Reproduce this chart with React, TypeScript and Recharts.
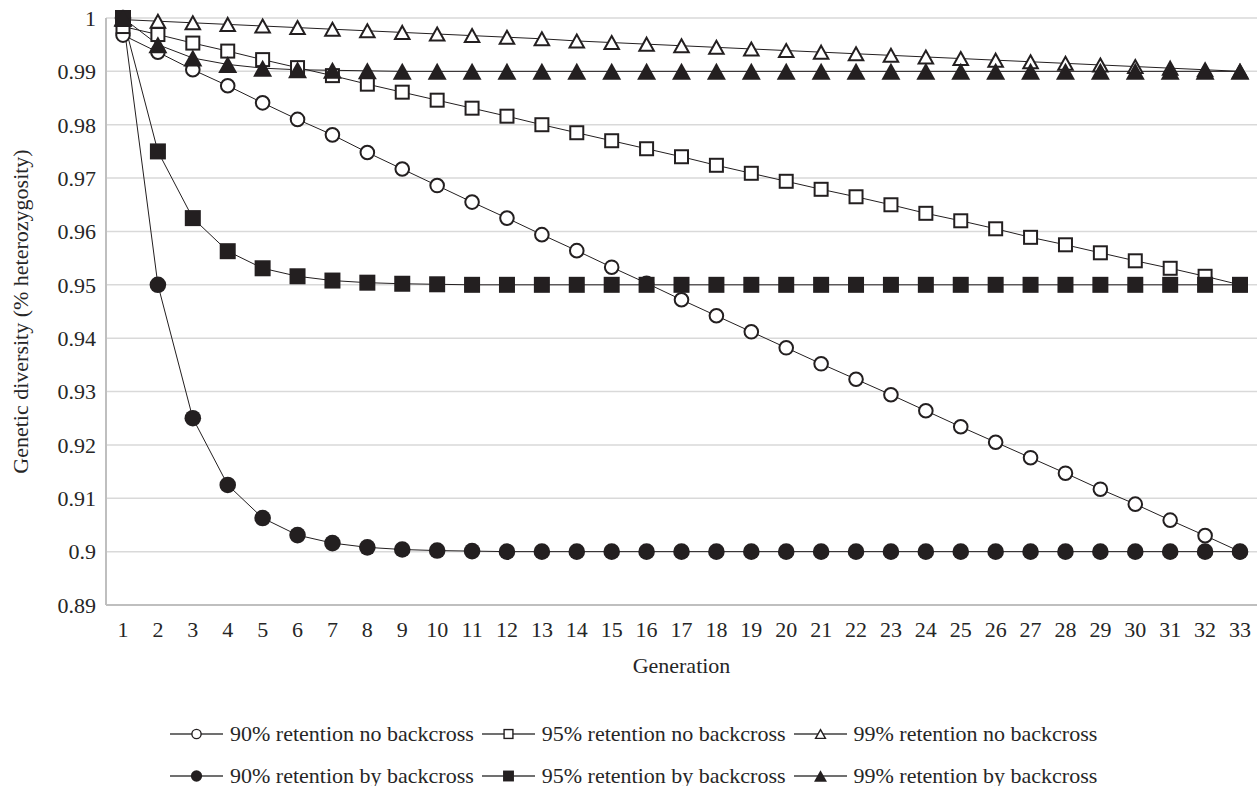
import { LineChart, Line, XAxis, YAxis, CartesianGrid, Legend, Label } from "recharts";

const generations = [
  "1", "2", "3", "4", "5", "6", "7", "8", "9", "10", "11",
  "12", "13", "14", "15", "16", "17", "18", "19", "20", "21", "22",
  "23", "24", "25", "26", "27", "28", "29", "30", "31", "32", "33",
];

const yTicks = [0.89, 0.9, 0.91, 0.92, 0.93, 0.94, 0.95, 0.96, 0.97, 0.98, 0.99, 1];

// one value per generation
const ret90No = [
  0.9968, 0.9936, 0.9903, 0.9873, 0.9841, 0.981, 0.9781, 0.9748, 0.9717, 0.9686, 0.9655,
  0.9625, 0.9594, 0.9564, 0.9533, 0.9503, 0.9472, 0.9442, 0.9412, 0.9382, 0.9352, 0.9323,
  0.9294, 0.9264, 0.9234, 0.9205, 0.9176, 0.9147, 0.9117, 0.9089, 0.9059, 0.903, 0.9,
];
const ret95No = [
  0.9984, 0.9969, 0.9953, 0.9938, 0.9922, 0.9907, 0.9892, 0.9876, 0.9861, 0.9846, 0.9831,
  0.9816, 0.98, 0.9785, 0.977, 0.9755, 0.974, 0.9724, 0.9709, 0.9694, 0.9679, 0.9665,
  0.965, 0.9634, 0.962, 0.9605, 0.9589, 0.9575, 0.956, 0.9545, 0.9531, 0.9516, 0.95,
];
const ret99No = [
  0.9997, 0.9994, 0.9991, 0.9988, 0.9985, 0.9982, 0.9979, 0.9976, 0.9973, 0.997, 0.9967,
  0.9964, 0.9961, 0.9957, 0.9954, 0.9951, 0.9948, 0.9945, 0.9942, 0.9939, 0.9936, 0.9933,
  0.993, 0.9927, 0.9924, 0.9921, 0.9918, 0.9915, 0.9912, 0.9909, 0.9906, 0.9903, 0.99,
];
const ret90By = [
  1, 0.95, 0.925, 0.9125, 0.9063, 0.9031, 0.9016, 0.9008, 0.9004, 0.9002, 0.9001,
  0.9, 0.9, 0.9, 0.9, 0.9, 0.9, 0.9, 0.9, 0.9, 0.9, 0.9,
  0.9, 0.9, 0.9, 0.9, 0.9, 0.9, 0.9, 0.9, 0.9, 0.9, 0.9,
];
const ret95By = [
  1, 0.975, 0.9625, 0.9563, 0.9531, 0.9516, 0.9508, 0.9504, 0.9502, 0.9501, 0.95,
  0.95, 0.95, 0.95, 0.95, 0.95, 0.95, 0.95, 0.95, 0.95, 0.95, 0.95,
  0.95, 0.95, 0.95, 0.95, 0.95, 0.95, 0.95, 0.95, 0.95, 0.95, 0.95,
];
const ret99By = [
  1, 0.995, 0.9925, 0.9913, 0.9906, 0.9903, 0.9902, 0.9901, 0.99, 0.99, 0.99,
  0.99, 0.99, 0.99, 0.99, 0.99, 0.99, 0.99, 0.99, 0.99, 0.99, 0.99,
  0.99, 0.99, 0.99, 0.99, 0.99, 0.99, 0.99, 0.99, 0.99, 0.99, 0.99,
];

type Shape = "circle" | "square" | "triangle";

const series: { key: string; name: string; shape: Shape; filled: boolean }[] = [
  { key: "ret90No", name: "90% retention no backcross", shape: "circle", filled: false },
  { key: "ret95No", name: "95% retention no backcross", shape: "square", filled: false },
  { key: "ret99No", name: "99% retention no backcross", shape: "triangle", filled: false },
  { key: "ret90By", name: "90% retention by backcross", shape: "circle", filled: true },
  { key: "ret95By", name: "95% retention by backcross", shape: "square", filled: true },
  { key: "ret99By", name: "99% retention by backcross", shape: "triangle", filled: true },
];

const data = generations.map((gen, i) => ({
  gen,
  ret90No: ret90No[i],
  ret95No: ret95No[i],
  ret99No: ret99No[i],
  ret90By: ret90By[i],
  ret95By: ret95By[i],
  ret99By: ret99By[i],
}));

const INK = "#231f20";
const FONT = "Liberation Serif, DejaVu Serif, serif";

function Marker({ cx, cy, shape, filled, scale = 1 }: { cx?: number; cy?: number; shape: Shape; filled: boolean; scale?: number }) {
  if (cx == null || cy == null) return null;
  const sw = filled ? 0 : Math.max(1.4, 2 * scale);
  const fill = filled ? INK : "#fff";
  if (shape === "circle") {
    const r = (filled ? 8.3 : 6.8) * scale;
    return <circle cx={cx} cy={cy} r={r} fill={fill} stroke={INK} strokeWidth={sw} />;
  }
  if (shape === "square") {
    const s = (filled ? 16 : 13) * scale;
    return <rect x={cx - s / 2} y={cy - s / 2} width={s} height={s} fill={fill} stroke={INK} strokeWidth={sw} />;
  }
  const w = (filled ? 19 : 14.5) * scale;
  const h = (filled ? 17 : 13) * scale;
  const d = `M${cx},${cy - h / 2} L${cx + w / 2},${cy + h / 2} L${cx - w / 2},${cy + h / 2} Z`;
  return <path d={d} fill={fill} stroke={INK} strokeWidth={sw} />;
}

function LegendItem({ s }: { s: (typeof series)[number] }) {
  return (
    <div style={{ display: "flex", alignItems: "center", marginRight: 8 }}>
      <svg width={53} height={20} style={{ marginRight: 7 }}>
        <line x1={0} y1={10} x2={53} y2={10} stroke="#404040" strokeWidth={1.3} />
        <Marker cx={26.5} cy={10} shape={s.shape} filled={s.filled} scale={0.68} />
      </svg>
      <span>{s.name}</span>
    </div>
  );
}

function renderLegend() {
  const rows = [series.slice(0, 3), series.slice(3, 6)];
  return (
    <div style={{ paddingTop: 27, paddingLeft: 170, fontFamily: FONT, fontSize: 22, color: "#262626" }}>
      {rows.map((row, i) => (
        <div key={i} style={{ display: "flex", height: 42, alignItems: "center" }}>
          {row.map((s) => (
            <LegendItem key={s.key} s={s} />
          ))}
        </div>
      ))}
    </div>
  );
}

const tickStyle = { fill: "#262626", fontSize: 22, fontFamily: FONT };

export default function App() {
  return (
    <div style={{ position: "absolute", left: 0, top: 0, background: "#fff", fontFamily: FONT }}>
      <LineChart width={1257} height={786} data={data} margin={{ top: 18, right: 0, left: 0, bottom: 0 }}>
        <CartesianGrid vertical={false} stroke="#d9d9d9" strokeWidth={1.5} />
        <XAxis
          dataKey="gen"
          scale="point"
          padding={{ left: 17, right: 17 }}
          height={81}
          interval={0}
          tickLine={false}
          tickSize={6}
          tickMargin={10}
          axisLine={{ stroke: "#bfbfbf", strokeWidth: 2 }}
          tick={tickStyle}
        >
          <Label
            content={(props: any) => {
              const vb = props.viewBox || {};
              return (
                <text x={vb.x + vb.width / 2} y={vb.y + 68} textAnchor="middle" fill="#262626" fontSize={22} fontFamily={FONT}>
                  Generation
                </text>
              );
            }}
          />
        </XAxis>
        <YAxis
          type="number"
          domain={[0.89, 1]}
          ticks={yTicks}
          interval={0}
          width={106}
          tickFormatter={(v: number) => String(Number(v.toFixed(2)))}
          tickLine={false}
          tickSize={6}
          tickMargin={4}
          axisLine={{ stroke: "#bfbfbf", strokeWidth: 2 }}
          tick={tickStyle}
        >
          <Label
            content={(props: any) => {
              const vb = props.viewBox || {};
              const cx = vb.x + 20;
              const cy = vb.y + vb.height / 2;
              return (
                <text
                  x={cx}
                  y={cy}
                  transform={`rotate(-90 ${cx} ${cy})`}
                  textAnchor="middle"
                  dominantBaseline="central"
                  fill="#262626"
                  fontSize={22}
                  fontFamily={FONT}
                >
                  Genetic diversity (% heterozygosity)
                </text>
              );
            }}
          />
        </YAxis>
        <Legend verticalAlign="bottom" height={100} content={renderLegend} wrapperStyle={{ left: 0, width: 1257 }} />
        {series.map((s) => (
          <Line
            key={s.key}
            type="linear"
            dataKey={s.key}
            name={s.name}
            stroke={INK}
            strokeWidth={1}
            isAnimationActive={false}
            activeDot={false}
            dot={(p: any) => <Marker key={`${s.key}-${p.index}`} cx={p.cx} cy={p.cy} shape={s.shape} filled={s.filled} />}
          />
        ))}
      </LineChart>
    </div>
  );
}
